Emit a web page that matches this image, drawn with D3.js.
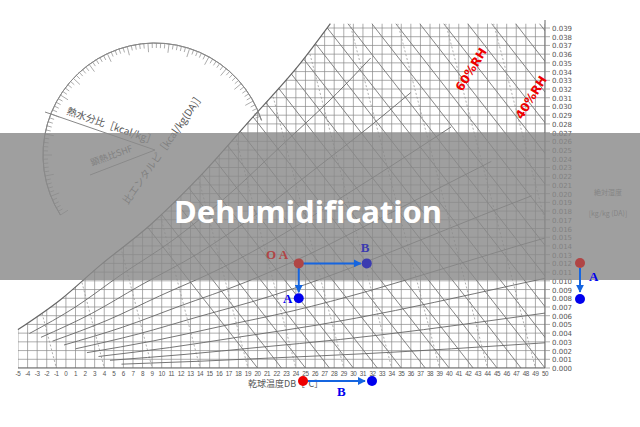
<!DOCTYPE html>
<html><head><meta charset="utf-8">
<script src="https://cdn.jsdelivr.net/npm/d3@7"></script>
<style>body{margin:0;background:#fff}svg{display:block}</style>
</head><body>
<svg id="c" width="640" height="427"></svg>
<script>
// dry bulb ticks and humidity ticks
var dbTicks = d3.range(-5, 51);
var xTicks = d3.range(0, 40).map(i => i / 1000);
// saturation curve as drawn on the (skewed) chart
var satDB = [-5, -0.6, 3.6, 8.8, 14, 19.2, 24.5, 27.6];
var satW = [0.0044, 0.0078, 0.0118, 0.0164, 0.022, 0.0284, 0.035, 0.0395];
var rhLevels = [0.9, 0.8, 0.7, 0.6, 0.5, 0.4, 0.3, 0.2, 0.1];
// process points
var pointA = {db: 24.3, w: 0.0120};
var pointB = {db: 31.4, w: 0.0120};
var pointA2 = {db: 24.3, w: 0.0080};

var svg = d3.select("#c");
var x = d3.scaleLinear().domain([-5, 50]).range([18, 545]);
var y = d3.scaleLinear().domain([0, 0.039]).range([368, 28]);
var g = svg.append("g");
var grey = "#888";

// clip to area under saturation curve
var satPts = satDB.map((d, i) => [x(d), y(satW[i])]);
var clipPath = "M" + x(-5) + "," + y(0) + "L" + satPts.map(p => p.join(",")).join("L") + "L" + x(50) + "," + y(0.0395) + "L" + x(50) + "," + y(0) + "Z";
svg.append("clipPath").attr("id", "cl").append("path").attr("d", clipPath);
var inner = g.append("g").attr("clip-path", "url(#cl)");

dbTicks.forEach(d => inner.append("line").attr("x1", x(d)).attr("x2", x(d)).attr("y1", y(0)).attr("y2", 10).attr("stroke", grey).attr("stroke-width", 0.7));
xTicks.forEach(w => inner.append("line").attr("x1", 10).attr("x2", x(50)).attr("y1", y(w)).attr("y2", y(w)).attr("stroke", grey).attr("stroke-width", 0.7));
// enthalpy diagonals
d3.range(-10, 60, 2.5).forEach(t => inner.append("line").attr("x1", x(t)).attr("y1", 0).attr("x2", x(t + 30)).attr("y2", y(0)).attr("stroke", "#777").attr("stroke-width", 0.9));
// wet bulb / volume lines (steeper)
d3.range(-5, 55, 5).forEach(t => inner.append("line").attr("x1", x(t - 6)).attr("y1", 0).attr("x2", x(t + 4)).attr("y2", y(0)).attr("stroke", "#999").attr("stroke-width", 0.8).attr("stroke-dasharray", "2,2"));
// RH curves
var line = d3.line().curve(d3.curveMonotoneX);
rhLevels.forEach(r => {
  var pts = satDB.map((d, i) => [x(d + (1 - r) * 30 * (i / 7 + 0.4)), y(satW[i] * r)]);
  inner.append("path").attr("d", line(pts)).attr("fill", "none").attr("stroke", "#666").attr("stroke-width", 0.9);
});
g.append("path").attr("d", line(satPts)).attr("fill", "none").attr("stroke", "#666").attr("stroke-width", 1.2);
g.append("line").attr("x1", x(-5)).attr("x2", x(50)).attr("y1", y(0)).attr("y2", y(0)).attr("stroke", "#666");
g.append("line").attr("x1", x(50)).attr("x2", x(50)).attr("y1", y(0)).attr("y2", 20).attr("stroke", "#666");

// bottom axis labels
g.selectAll(".db").data(dbTicks).join("text").attr("x", d => x(d)).attr("y", 376).attr("text-anchor", "middle")
  .attr("font-size", 6.3).attr("letter-spacing", -0.4).attr("font-family", "Liberation Sans").attr("fill", "#555").text(d => d);
g.selectAll(".xw").data(xTicks).join("text").attr("x", 552).attr("y", d => y(d) + 3)
  .attr("font-size", 7).attr("font-family", "DejaVu Sans").attr("fill", "#555").text(d => d.toFixed(3));
xTicks.forEach(w => g.append("line").attr("x1", x(50)).attr("x2", 550).attr("y1", y(w)).attr("y2", y(w)).attr("stroke", grey).attr("stroke-width", 0.7));
g.append("text").attr("x", 248).attr("y", 387).attr("font-size", 9).attr("fill", "#555").attr("font-family", "Noto Sans CJK JP").text("乾球温度DB［°C］");
g.append("text").attr("x", 608).attr("y", 195).attr("font-size", 7).attr("fill", "#666").attr("text-anchor", "middle").attr("font-family", "Noto Sans CJK JP").text("絶対湿度");
g.append("text").attr("x", 608).attr("y", 216).attr("font-size", 7).attr("fill", "#666").attr("text-anchor", "middle").attr("font-family", "Noto Sans CJK JP").text("[kg/kg (DA)]");

// protractor
var cx = 155, cy = 155, R = 112;
g.append("path").attr("transform", `translate(${cx},${cy})`).attr("d", d3.arc()({innerRadius: R, outerRadius: R, startAngle: -Math.PI * 0.68, endAngle: Math.PI * 0.4})).attr("fill", "none").attr("stroke", "#888");
d3.range(-0.68, 0.4, 0.012).forEach((a, i) => {
  var an = a * Math.PI, L = i % 5 ? 5 : 9;
  g.append("line").attr("x1", cx + R * Math.sin(an)).attr("y1", cy - R * Math.cos(an))
    .attr("x2", cx + (R - L) * Math.sin(an)).attr("y2", cy - (R - L) * Math.cos(an)).attr("stroke", "#888").attr("stroke-width", 0.7);
});
g.append("line").attr("x1", 45).attr("y1", 112).attr("x2", 155).attr("y2", 150).attr("stroke", "#888");
g.append("line").attr("x1", 90).attr("y1", 175).attr("x2", 155).attr("y2", 150).attr("stroke", "#888");
g.append("text").attr("transform", "translate(66,114) rotate(19)").attr("font-size", 10).attr("fill", "#555").attr("font-family", "Noto Sans CJK JP").text("熱水分比［kcal/kg］");
g.append("text").attr("transform", "translate(92,166) rotate(-20)").attr("font-size", 9).attr("fill", "#555").attr("font-family", "Noto Sans CJK JP").text("顕熱比SHF");
g.append("text").attr("transform", "translate(128,205) rotate(-55)").attr("font-size", 10).attr("fill", "#555").attr("font-family", "Noto Sans CJK JP").text("比エンタルピ［kcal/kg(DA)］");

// RH labels
g.append("text").attr("transform", "translate(462,92) rotate(-58)").attr("font-size", 12).attr("font-weight", "bold").attr("fill", "#e00").attr("font-family", "DejaVu Sans").text("60%RH");
g.append("text").attr("transform", "translate(522,120) rotate(-58)").attr("font-size", 12).attr("font-weight", "bold").attr("fill", "#e00").attr("font-family", "DejaVu Sans").text("40%RH");

// banner
svg.append("rect").attr("x", 0).attr("y", 133).attr("width", 640).attr("height", 147).attr("fill", "#8a8a8a").attr("opacity", 0.82);
svg.append("text").attr("x", 308).attr("y", 223).attr("text-anchor", "middle").attr("font-size", 31).attr("font-weight", "bold").attr("fill", "#fff").attr("font-family", "Noto Sans").text("Dehumidification");

// markers
var defs = svg.append("defs");
defs.append("marker").attr("id", "ar").attr("viewBox", "0 0 10 10").attr("refX", 9).attr("refY", 5).attr("markerWidth", 4).attr("markerHeight", 4).attr("orient", "auto")
  .append("path").attr("d", "M0,0L10,5L0,10Z").attr("fill", "#1565e0");
function arrow(x1, y1, x2, y2) {
  svg.append("line").attr("x1", x1).attr("y1", y1).attr("x2", x2).attr("y2", y2).attr("stroke", "#1565e0").attr("stroke-width", 2).attr("marker-end", "url(#ar)");
}
function dot(cx, cy, c) { svg.append("circle").attr("cx", cx).attr("cy", cy).attr("r", 5).attr("fill", c); }
function lbl(tx, ty, t, c) { svg.append("text").attr("x", tx).attr("y", ty).attr("font-size", 13).attr("font-weight", "bold").attr("fill", c).attr("font-family", "Liberation Serif").text(t); }

var ax = x(pointA.db), ay = y(pointA.w);
arrow(ax, ay, x(pointB.db) - 6, ay);
arrow(ax, ay + 4, ax, y(pointA2.w) - 6);
dot(ax, ay, "#b04545"); dot(x(pointB.db), ay, "#3b3bb0"); dot(ax, y(pointA2.w), "#0000ee");
lbl(x(pointB.db) - 6, ay - 11, "B", "#3b3bb0");
lbl(266, 259, "O A", "#b04545");
lbl(283, 303, "A", "#0000ee");

arrow(580, 268, 580, 292); dot(580, 263, "#b04545"); dot(580, 299, "#0000ee"); lbl(589, 281, "A", "#0000ee");
arrow(307, 381, 365, 381); dot(303, 381, "#ee0000"); dot(372, 381, "#0000ee"); lbl(337, 396, "B", "#0000ee");
</script>
</body></html>
